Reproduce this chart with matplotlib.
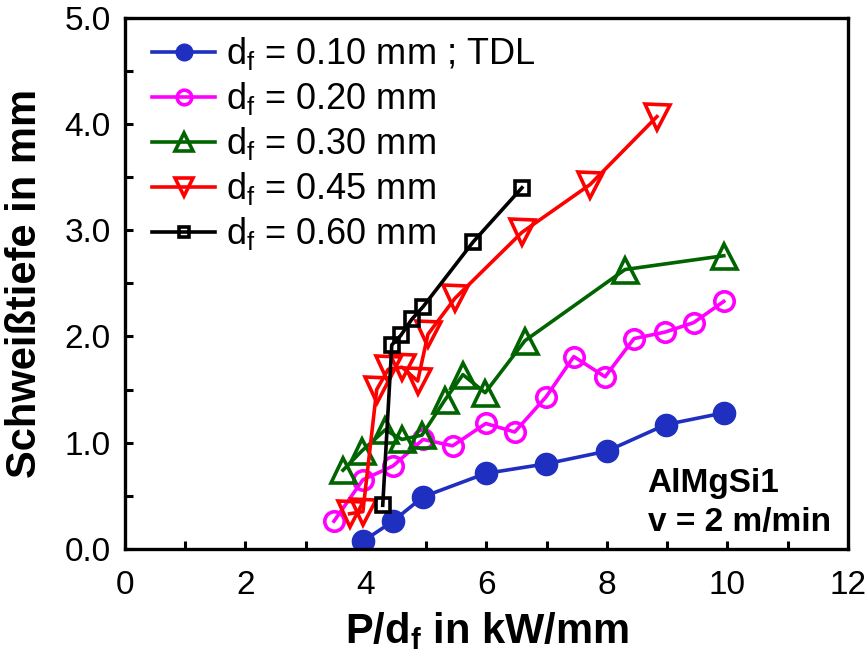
import matplotlib
matplotlib.use("Agg")
import matplotlib.pyplot as plt
from matplotlib.ticker import MultipleLocator, FormatStrFormatter

plt.rcParams['font.family'] = ['Liberation Sans', 'DejaVu Sans']
plt.rcParams['mathtext.fontset'] = 'custom'
plt.rcParams['mathtext.rm'] = 'Liberation Sans'
plt.rcParams['mathtext.bf'] = 'Liberation Sans:bold'

# d_f = 0.10 mm ; TDL
x_010 = [3.95, 4.45, 4.95, 5.99, 6.99, 8.0, 8.98, 9.94]
y_010 = [0.07, 0.26, 0.49, 0.71, 0.80, 0.92, 1.17, 1.28]

# d_f = 0.20 mm
x_020 = [3.47, 3.95, 4.45, 4.95, 5.44, 5.99, 6.47, 6.99, 7.45, 7.97, 8.45, 8.96, 9.44, 9.94]
y_020 = [0.26, 0.65, 0.78, 1.03, 0.97, 1.18, 1.10, 1.43, 1.81, 1.62, 1.98, 2.04, 2.13, 2.33]

# d_f = 0.30 mm
x_030 = [3.62, 3.93, 4.32, 4.60, 4.93, 5.31, 5.61, 5.98, 6.64, 8.30, 9.94]
y_030 = [0.74, 0.92, 1.12, 1.03, 1.07, 1.40, 1.64, 1.47, 1.96, 2.63, 2.76]

# d_f = 0.45 mm
x_045 = [3.73, 3.95, 4.18, 4.37, 4.60, 4.86, 5.03, 5.48, 6.59, 7.72, 8.83]
y_045 = [0.33, 0.35, 1.50, 1.69, 1.71, 1.58, 2.02, 2.36, 2.98, 3.43, 4.07]

# d_f = 0.60 mm
x_060 = [4.28, 4.43, 4.58, 4.76, 4.95, 5.78, 6.59]
y_060 = [0.41, 1.92, 2.01, 2.16, 2.28, 2.89, 3.40]

labels = ['d$_\\mathrm{f}$ = 0.10 mm ; TDL', 'd$_\\mathrm{f}$ = 0.20 mm',
          'd$_\\mathrm{f}$ = 0.30 mm', 'd$_\\mathrm{f}$ = 0.45 mm',
          'd$_\\mathrm{f}$ = 0.60 mm']

fig = plt.figure(figsize=(8.67, 6.62), dpi=100)
ax = fig.add_axes([0.144, 0.171, 0.834, 0.802])

lw = 2.6
ax.plot(x_010, y_010, '-o', color='#1f2fbf', lw=lw, ms=16, mfc='#1f2fbf',
        mec='#1f2fbf', label=labels[0])
ax.plot(x_020, y_020, '-o', color='#ff00ff', lw=lw, ms=14, mfc='none',
        mew=lw, label=labels[1])
ax.plot(x_030, y_030, '-^', color='#006400', lw=lw, ms=18, mfc='none',
        mew=lw, label=labels[2])
ax.plot(x_045, y_045, '-v', color='#ff0000', lw=lw, ms=18, mfc='none',
        mew=lw, label=labels[3])
ax.plot(x_060, y_060, '-s', color='black', lw=lw, ms=10, mfc='none',
        mew=lw, label=labels[4])

ax.set_xlim(0, 12)
ax.set_ylim(0, 5)
ax.xaxis.set_major_locator(MultipleLocator(2))
ax.xaxis.set_minor_locator(MultipleLocator(1))
ax.yaxis.set_major_locator(MultipleLocator(1))
ax.yaxis.set_minor_locator(MultipleLocator(0.5))
ax.yaxis.set_major_formatter(FormatStrFormatter('%.1f'))

for s in ax.spines.values():
    s.set_linewidth(2.4)
ax.tick_params(which='both', direction='in', width=2.2, length=6,
               top=False, right=False)
ax.tick_params(axis='x', which='major', labelsize=24, pad=15)
ax.tick_params(axis='y', which='major', labelsize=24, pad=10)

ax.set_xlabel('P/d$_\\mathbf{f}$ in kW/mm', fontsize=30, fontweight='bold', labelpad=7)
ax.set_ylabel('Schweißtiefe in mm', fontsize=30, fontweight='bold', labelpad=14)

ax.text(0.723, 0.107, 'AlMgSi1', transform=ax.transAxes,
        fontsize=24, fontweight='bold', ha='left', va='baseline')
ax.text(0.723, 0.034, 'v = 2 m/min', transform=ax.transAxes,
        fontsize=24, fontweight='bold', ha='left', va='baseline')

ax.legend(loc='upper left', bbox_to_anchor=(0.0, 1.018), frameon=False,
          fontsize=26, handlelength=1.75, handletextpad=0.3, labelspacing=0.22,
          markerscale=0.75, borderaxespad=0.35)

fig.savefig('out.png', dpi=100)
